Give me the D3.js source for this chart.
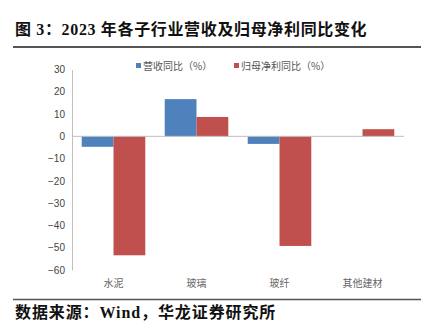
<!DOCTYPE html>
<html><head><meta charset="utf-8">
<script src="https://cdn.jsdelivr.net/npm/d3@7"></script>
<style>body{margin:0;background:#fff}</style>
</head><body>
<svg id="c" width="421" height="333"></svg>
<script>
const categories = ["水泥", "玻璃", "玻纤", "其他建材"];
const seriesNames = ["营收同比（%）", "归母净利同比（%）"];
const revenueYoY = [-4.7, 16.7, -3.4, 0];
const profitYoY = [-53.4, 8.7, -49.2, 3.2];
const yTicks = [30, 20, 10, 0, -10, -20, -30, -40, -50, -60];
const colors = ["#4f81bd", "#c0504d"];

const svg = d3.select("#c");
const sans = "'Liberation Sans', Arial, sans-serif";
const cjk = "'Noto Sans CJK SC', sans-serif";

// title
svg.append("text").attr("x", 15).attr("y", 35)
  .attr("font-family", "'Liberation Serif','Noto Sans CJK SC',serif").attr("font-weight", "bold")
  .attr("font-size", 16).attr("letter-spacing", 0.65).attr("fill", "#111")
  .text("图 3：2023 年各子行业营收及归母净利同比变化");
svg.append("line").attr("x1", 13).attr("x2", 421).attr("y1", 47).attr("y2", 47)
  .attr("stroke", "#555").attr("stroke-width", 2);

const y = d3.scaleLinear().domain([-60, 30]).range([270, 69.5]);
const x0 = d3.scaleBand().domain(categories).range([72, 404]);
const x1 = d3.scaleBand().domain([0, 1]).range([x0.bandwidth() * 0.117, x0.bandwidth() * 0.883]);

// y axis
const yAxis = d3.axisLeft(y).tickValues(yTicks).tickSize(0).tickPadding(7)
  .tickFormat(d => d < 0 ? "−" + Math.abs(d) : d);
const ga = svg.append("g").attr("transform", "translate(72,0)").call(yAxis);
ga.select(".domain").attr("stroke", "#bfbfbf");
ga.selectAll("text").attr("font-family", sans).attr("font-size", 10).attr("fill", "#444");

// bars
const data = categories.map((c, i) => ({ c, v: [revenueYoY[i], profitYoY[i]] }));
const g = svg.append("g");
data.forEach(d => {
  d.v.forEach((v, k) => {
    g.append("rect")
      .attr("x", x0(d.c) + x1(k)).attr("width", x1.bandwidth())
      .attr("y", y(Math.max(0, v))).attr("height", Math.abs(y(v) - y(0)))
      .attr("fill", colors[k]);
  });
});
// zero line
svg.append("line").attr("x1", 72).attr("x2", 404).attr("y1", y(0)).attr("y2", y(0))
  .attr("stroke", "#bfbfbf").attr("stroke-width", 1);

// category labels
svg.append("g").selectAll("text").data(categories).join("text")
  .attr("x", d => x0(d) + x0.bandwidth() / 2).attr("y", 287)
  .attr("text-anchor", "middle").attr("font-family", cjk).attr("font-size", 10)
  .attr("fill", "#666").text(d => d);

// legend
const legendX = [136, 234];
seriesNames.forEach((s, k) => {
  svg.append("rect").attr("x", legendX[k]).attr("y", 63).attr("width", 5).attr("height", 5).attr("fill", colors[k]);
  svg.append("text").attr("x", legendX[k] + 7).attr("y", 69.5)
    .attr("font-family", cjk).attr("font-size", 10).attr("fill", "#555").text(s);
});

// footer
svg.append("line").attr("x1", 13).attr("x2", 421).attr("y1", 299.5).attr("y2", 299.5)
  .attr("stroke", "#555").attr("stroke-width", 1.5);
svg.append("text").attr("x", 15).attr("y", 318)
  .attr("font-family", "'Liberation Serif','Noto Sans CJK SC',serif").attr("font-weight", "bold")
  .attr("font-size", 16).attr("letter-spacing", 0.9).attr("fill", "#111")
  .text("数据来源：Wind，华龙证券研究所");
</script>
</body></html>
